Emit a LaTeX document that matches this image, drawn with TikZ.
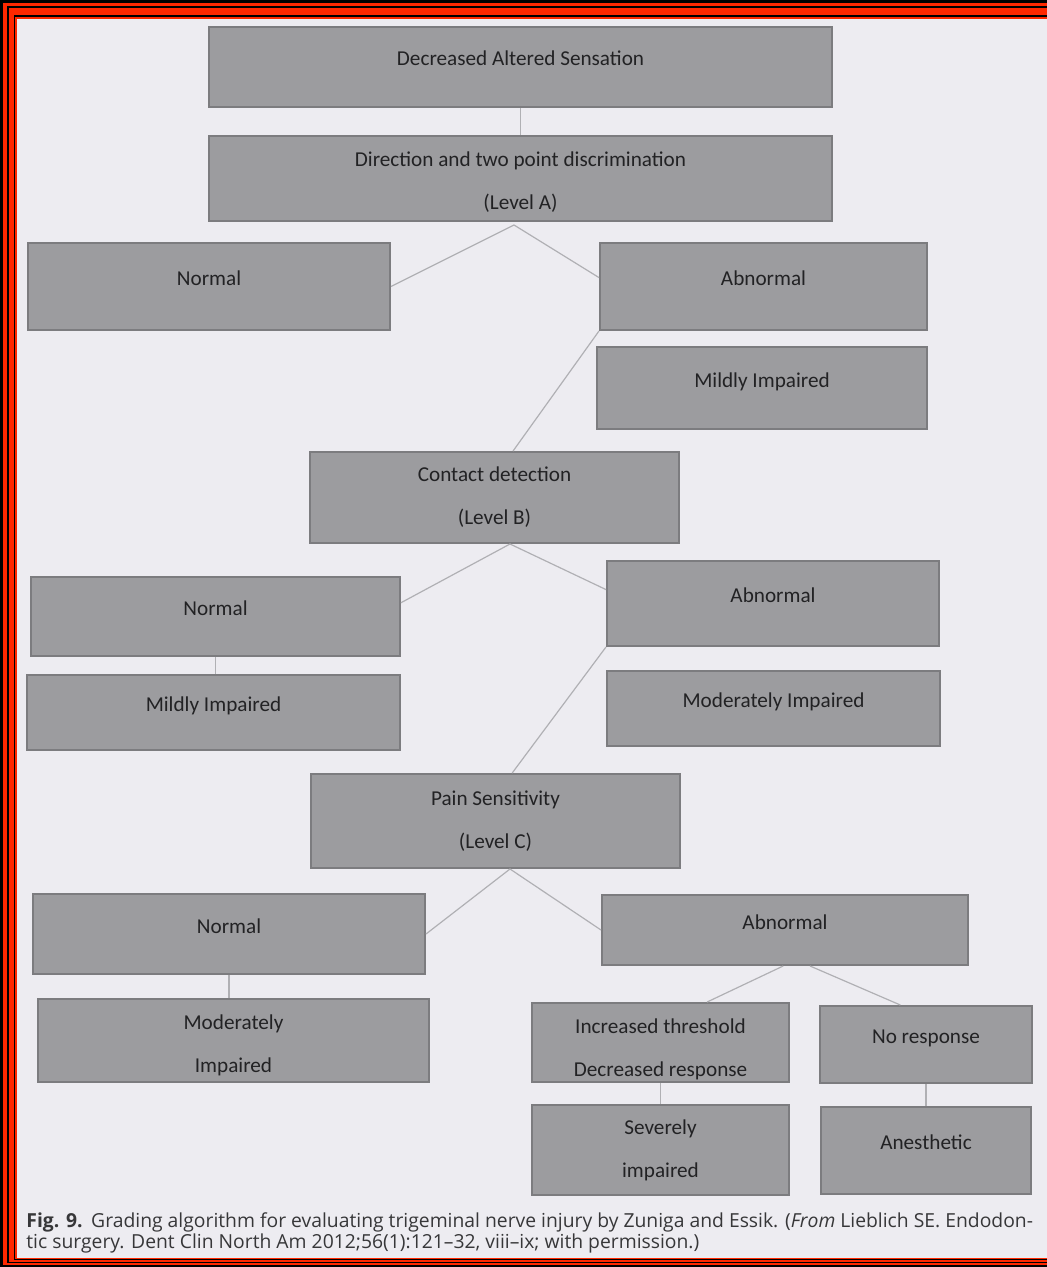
\documentclass[tikz,border=0pt]{standalone}
\usepackage{fontspec}
\setmainfont{Carlito}
\newfontfamily\capfont{Open Sans}
\usetikzlibrary{calc}

\definecolor{pagebg}{RGB}{237,236,241}
\definecolor{boxfill}{RGB}{156,156,159}
\definecolor{boxline}{RGB}{124,124,127}
\definecolor{linkgrey}{RGB}{176,176,180}
\definecolor{inkgrey}{RGB}{34,34,36}
\definecolor{capgrey}{RGB}{55,55,57}
\definecolor{framered}{RGB}{255,40,0}

\tikzset{
  greybox/.style 2 args={draw=boxline, line width=1pt, fill=boxfill, text=inkgrey,
    minimum width={#1*0.5pt}, minimum height={#2*0.5pt}, inner sep=0pt, align=center,
    font=\fontsize{10.6pt}{12pt}\selectfont},
  oneline/.style={text height=7pt, text depth=8pt},
  link/.style={draw=linkgrey, line width=0.6pt},
  captext/.style={anchor=base west, inner sep=0pt, text=capgrey,
    font=\capfont\fontsize{9.66pt}{10.5pt}\selectfont},
}

\begin{document}
\begin{tikzpicture}[x=0.5pt, y=-0.5pt]
        \useasboundingbox (0,0) rectangle (1047,1267);
        % scanned page frame
        \fill[black] (0,0) rectangle (1047,1267);
        \fill[framered] (3,3) rectangle (1047,1264.5);
        \fill[black] (7,6) rectangle (1047,1263);
        \fill[framered] (9,8) rectangle (1047,1261.5);
        \fill[black] (13.5,15) rectangle (1047,1260);
        \fill[framered] (15.2,16.7) rectangle (1047,1259);
        \fill[pagebg] (17.3,18.7) rectangle (1047,1258);

        % level A
        \node[greybox={623}{80}, oneline] (dec) at (520.5,67) {Decreased Altered Sensation};
        \node[greybox={623}{85}] (lvlA) at (520.5,178.5) {\rule{0pt}{11pt}Direction and two point discrimination\\[9.5pt](Level A)};
        \node[greybox={362}{87}, oneline] (normA) at (209,286.5) {Normal};
        \node[greybox={327}{87}, oneline] (abnA) at (763.5,286.5) {Abnormal};
        \node[greybox={330}{82}, oneline] (mildA) at (762,388) {Mildly Impaired};

        % level B
        \node[greybox={369}{91}] (lvlB) at (494.5,497.5) {Contact detection\\[9.5pt](Level B)};
        \node[greybox={369}{79}, oneline] (normB) at (215.5,616.5) {Normal};
        \node[greybox={332}{85}, oneline] (abnB) at (773,603.5) {Abnormal};
        \node[greybox={373}{75}, oneline] (mildB) at (213.5,712.5) {Mildly Impaired};
        \node[greybox={333}{75}, oneline] (modB) at (773.5,708.5) {Moderately Impaired};

        % level C
        \node[greybox={369}{94}] (lvlC) at (495.5,821) {Pain Sensitivity\\[9.5pt](Level C)};
        \node[greybox={392}{80}, oneline] (normC) at (229,934) {Normal};
        \node[greybox={366}{70}, oneline] (abnC) at (785,930) {Abnormal};
        \node[greybox={391}{83}] (modC) at (233.5,1040.5) {\rule{0pt}{12pt}Moderately\\[9.5pt]Impaired};
        \node[greybox={257}{79}] (incC) at (660.5,1042.5) {\rule{0pt}{14pt}Increased threshold\\[9.5pt]Decreased response};
        \node[greybox={212}{77}, oneline] (noC) at (926,1044.5) {No response};
        \node[greybox={257}{90}] (sevC) at (660.5,1150) {Severely\\[9.5pt]impaired};
        \node[greybox={210}{87}, oneline] (anaC) at (926,1150.5) {Anesthetic};

        % connectors
        \coordinate (apexA) at (514,225);
        \coordinate (apexB) at (510,544);
        \coordinate (apexC) at (510,869);
        \draw[link] (dec.south) -- (lvlA.north);
        \draw[link] (normA.east) -- (apexA) -- ($(abnA.north west)!0.4!(abnA.south west)$);
        \draw[link] (abnA.south west) -- ($(lvlB.north west)!0.55!(lvlB.north east)$);
        \draw[link] ($(normB.north east)!0.33!(normB.south east)$) -- (apexB) -- ($(abnB.north west)!0.34!(abnB.south west)$);
        \draw[link] (normB.south) -- (normB.south |- mildB.north);
        \draw[link] (abnB.south west) -- ($(lvlC.north west)!0.545!(lvlC.north east)$);
        \draw[link] (normC.east) -- (apexC) -- (abnC.west);
        \draw[link] (normC.south) -- (normC.south |- modC.north);
        \draw[link] ($(abnC.south west)!0.495!(abnC.south east)$) -- ($(incC.north west)!0.68!(incC.north east)$);
        \draw[link] ($(abnC.south west)!0.568!(abnC.south east)$) -- ($(noC.north west)!0.38!(noC.north east)$);
        \draw[link] (incC.south) -- (sevC.north);
        \draw[link] (noC.south) -- (anaC.north);

        % caption
        \node[captext] (capA) at (26,1227) {\textbf{Fig. 9.}\hspace{0.45em}Grading algorithm for evaluating trigeminal nerve injury by Zuniga and Essik. (\textit{From} Lieblich SE. Endodon-};
        \node[captext] (capB) at (26,1248) {tic surgery. Dent Clin North Am 2012;56(1):121–32, viii–ix; with permission.)};
\end{tikzpicture}
\end{document}
